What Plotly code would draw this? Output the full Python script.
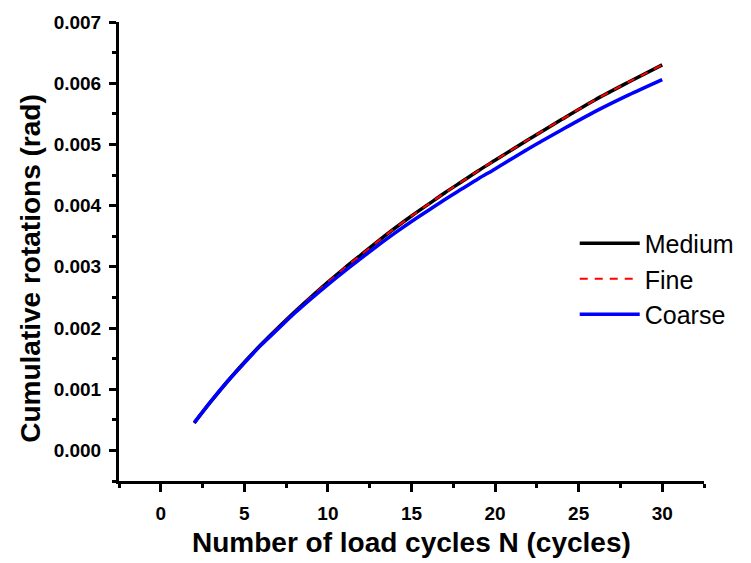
import plotly.graph_objects as go

# Number of load cycles N
cycles = [2, 3, 4, 5, 6, 7, 8, 9, 10, 11, 12, 13, 14, 15, 16, 17, 18, 19, 20, 22, 24, 26, 28, 30]

medium = [0.00045, 0.00080, 0.00113, 0.00144, 0.00173, 0.00200, 0.00226, 0.00251, 0.00275,
          0.00298, 0.00320, 0.00342, 0.00363, 0.00383, 0.00402, 0.00421, 0.00439, 0.00457,
          0.00474, 0.00508, 0.00541, 0.00573, 0.00602, 0.00630]

fine = [0.00045, 0.00080, 0.00113, 0.00144, 0.00173, 0.00200, 0.00226, 0.00251, 0.00275,
        0.00298, 0.00320, 0.00342, 0.00363, 0.00383, 0.00402, 0.00421, 0.00439, 0.00457,
        0.00474, 0.00508, 0.00541, 0.00573, 0.00602, 0.00630]

coarse = [0.00045, 0.00080, 0.00113, 0.00143, 0.00172, 0.00198, 0.00224, 0.00248, 0.00271,
          0.00293, 0.00314, 0.00335, 0.00355, 0.00374, 0.00392, 0.00410, 0.00427, 0.00444,
          0.00460, 0.00493, 0.00524, 0.00554, 0.00581, 0.00606]

x_ticks = [0, 5, 10, 15, 20, 25, 30]
y_ticks = [0.000, 0.001, 0.002, 0.003, 0.004, 0.005, 0.006, 0.007]

FONT = "Liberation Sans, Arial, sans-serif"

fig = go.Figure()
fig.add_trace(go.Scatter(x=cycles, y=medium, mode="lines", name="Medium",
                         line=dict(color="black", width=3.5, shape="spline", smoothing=0.8)))
fig.add_trace(go.Scatter(x=cycles, y=fine, mode="lines", name="Fine",
                         line=dict(color="red", width=2, dash="8px,7px", shape="spline", smoothing=0.8)))
fig.add_trace(go.Scatter(x=cycles, y=coarse, mode="lines", name="Coarse",
                         line=dict(color="blue", width=3.5, shape="spline", smoothing=0.8)))

fig.update_layout(
    width=751, height=563,
    margin=dict(l=119, r=28, t=20, b=82),
    paper_bgcolor="white", plot_bgcolor="white",
    showlegend=True,
    legend=dict(x=0.779, y=0.44, xanchor="left", yanchor="middle",
                font=dict(family=FONT, size=25, color="black"),
                bgcolor="rgba(0,0,0,0)", itemwidth=60, tracegroupgap=0),
    annotations=[
        dict(text="Number of load cycles N (cycles)", xref="paper", yref="paper",
             x=0.5, y=-0.1345, xanchor="center", yanchor="middle", showarrow=False,
             font=dict(family=FONT, size=28, color="black", weight="bold")),
        dict(text="Cumulative rotations (rad)", xref="paper", yref="paper",
             x=-0.1507, y=0.462, xanchor="center", yanchor="middle", showarrow=False,
             textangle=-90,
             font=dict(family=FONT, size=28, color="black", weight="bold")),
    ],
)

fig.update_xaxes(
    range=[-2.5, 32.5], tickmode="array", tickvals=x_ticks,
    ticktext=[str(v) for v in x_ticks],
    showgrid=False, zeroline=False,
    showline=True, linecolor="black", linewidth=3,
    ticks="outside", ticklen=8, tickwidth=2.5, tickcolor="black",
    tickfont=dict(family=FONT, size=19, color="black", weight="bold"),
    ticklabelstandoff=5,
    minor=dict(dtick=2.5, tick0=0, ticks="outside", ticklen=4, tickwidth=2.5, tickcolor="black"),
)
fig.update_yaxes(
    range=[-0.0005, 0.007], tickmode="array", tickvals=y_ticks,
    ticktext=[f"{v:.3f}" for v in y_ticks],
    showgrid=False, zeroline=False,
    showline=True, linecolor="black", linewidth=3,
    ticks="outside", ticklen=7, tickwidth=2.5, tickcolor="black",
    tickfont=dict(family=FONT, size=19, color="black", weight="bold"),
    ticklabelstandoff=4,
    minor=dict(dtick=0.0005, tick0=0, ticks="outside", ticklen=4, tickwidth=2.5, tickcolor="black"),
)

fig.write_html("out.html")
